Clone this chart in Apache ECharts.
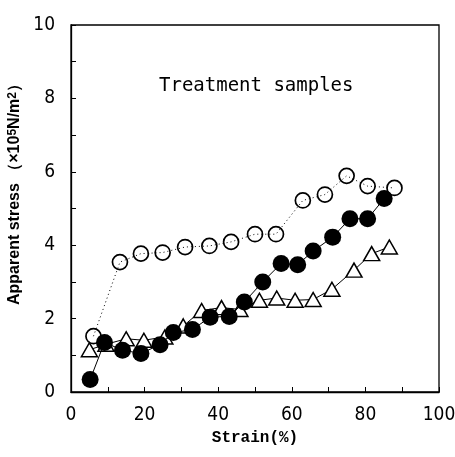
<!DOCTYPE html>
<html><head><meta charset="utf-8">
<script src="https://cdn.jsdelivr.net/npm/echarts@6/dist/echarts.min.js"></script>
<style>html,body{margin:0;padding:0;background:#fff}#c{width:455px;height:457px}</style>
</head><body><div id="c"></div>
<script>
var openStrain = [6.1, 13.3, 19.0, 24.9, 31.0, 37.6, 43.5, 50.0, 55.7, 63.0, 69.0, 74.9, 80.6, 87.9];
var openStress = [1.52, 3.54, 3.77, 3.80, 3.95, 3.98, 4.09, 4.30, 4.30, 5.22, 5.38, 5.89, 5.61, 5.56];
var filledStrain = [5.2, 9.1, 14.0, 19.0, 24.2, 27.8, 33.0, 37.8, 43.0, 47.1, 52.1, 57.1, 61.6, 65.8, 71.1, 75.8, 80.6, 85.1];
var filledStress = [0.34, 1.35, 1.14, 1.05, 1.29, 1.62, 1.70, 2.04, 2.06, 2.45, 3.00, 3.50, 3.47, 3.84, 4.22, 4.72, 4.72, 5.27];
var triStrain = [5.0, 9.5, 15.0, 19.8, 25.5, 30.5, 35.5, 40.9, 45.9, 51.2, 55.9, 60.9, 65.8, 70.9, 76.9, 81.7, 86.5];
var triStress = [1.15, 1.30, 1.45, 1.41, 1.50, 1.80, 2.22, 2.30, 2.25, 2.50, 2.56, 2.50, 2.52, 2.80, 3.32, 3.77, 3.95];
var xTickLabels = ['0', '20', '40', '60', '80', '100'];
var yTickLabels = ['0', '2', '4', '6', '8', '10'];

function pairs(xs, ys){ return xs.map(function(x,i){ return [x, ys[i]]; }); }

var tickFont = '"Liberation Sans Narrow", "DejaVu Sans Condensed", "Liberation Sans", sans-serif';
var nameFont = '"Liberation Sans", Arial, sans-serif';
var chart = echarts.init(document.getElementById('c'));
chart.setOption({
  animation: false,
  backgroundColor: '#fff',
  title: {
    text: 'Treatment samples',
    left: 154, top: 72,
    textStyle: { fontFamily: '"DejaVu Sans Mono", monospace', fontSize: 19, fontWeight: 'normal', color: '#000' }
  },
  grid: { left: 71, right: 16, top: 25, bottom: 65, containLabel: false, outerBoundsMode: 'none',
          show: true, borderColor: '#000', borderWidth: 1.3, backgroundColor: 'transparent' },
  xAxis: {
    type: 'value', min: 0, max: 100, interval: 10,
    name: 'Strain(%)', nameLocation: 'middle', nameGap: 36,
    nameTextStyle: { fontFamily: '"Liberation Mono", "DejaVu Sans Mono", monospace', fontWeight: 'bold', fontSize: 16, color: '#000' },
    axisLine: { lineStyle: { color: '#000', width: 1.3 } },
    axisTick: { inside: true, length: 5, lineStyle: { color: '#000' } },
    splitLine: { show: false },
    axisLabel: {
      margin: 14, color: '#000', fontFamily: tickFont, fontSize: 19,
      formatter: function(v){ return xTickLabels.indexOf(String(v)) >= 0 ? String(v) : ''; }
    }
  },
  yAxis: {
    type: 'value', min: 0, max: 10, interval: 1,
    name: '{a|Apparent stress （×10}{s|5}{a|N/m}{s|2}{a|）}',
    nameLocation: 'middle', nameGap: 38, nameRotate: 90,
    nameTextStyle: {
      fontFamily: nameFont, fontWeight: 'bold', fontSize: 16, color: '#000',
      padding: [0, 0, 0, 36],
      rich: {
        a: { fontFamily: nameFont, fontWeight: 'bold', fontSize: 16, color: '#000' },
        s: { fontFamily: nameFont, fontWeight: 'bold', fontSize: 12, color: '#000', verticalAlign: 'top' }
      }
    },
    axisLine: { lineStyle: { color: '#000', width: 1.3 } },
    axisTick: { inside: true, length: 5, lineStyle: { color: '#000' } },
    splitLine: { show: false },
    axisLabel: {
      margin: 16, color: '#000', fontFamily: tickFont, fontSize: 19,
      formatter: function(v){ return yTickLabels.indexOf(String(v)) >= 0 ? String(v) : ''; }
    }
  },
  series: [
    {
      type: 'line', data: pairs(triStrain, triStress), z: 2,
      symbol: 'triangle', symbolSize: [16, 14],
      itemStyle: { color: '#fff', borderColor: '#000', borderWidth: 1.5 },
      lineStyle: { color: '#000', width: 1 }
    },
    {
      type: 'line', data: pairs(openStrain, openStress), z: 3,
      symbol: 'circle', symbolSize: 15,
      itemStyle: { color: 'transparent', borderColor: '#000', borderWidth: 1.7 },
      lineStyle: { color: '#000', width: 1, type: [1, 3] }
    },
    {
      type: 'line', data: pairs(filledStrain, filledStress), z: 4,
      symbol: 'circle', symbolSize: 17,
      itemStyle: { color: '#000', borderColor: '#000', borderWidth: 0 },
      lineStyle: { color: '#000', width: 1 }
    }
  ]
});
</script></body></html>
